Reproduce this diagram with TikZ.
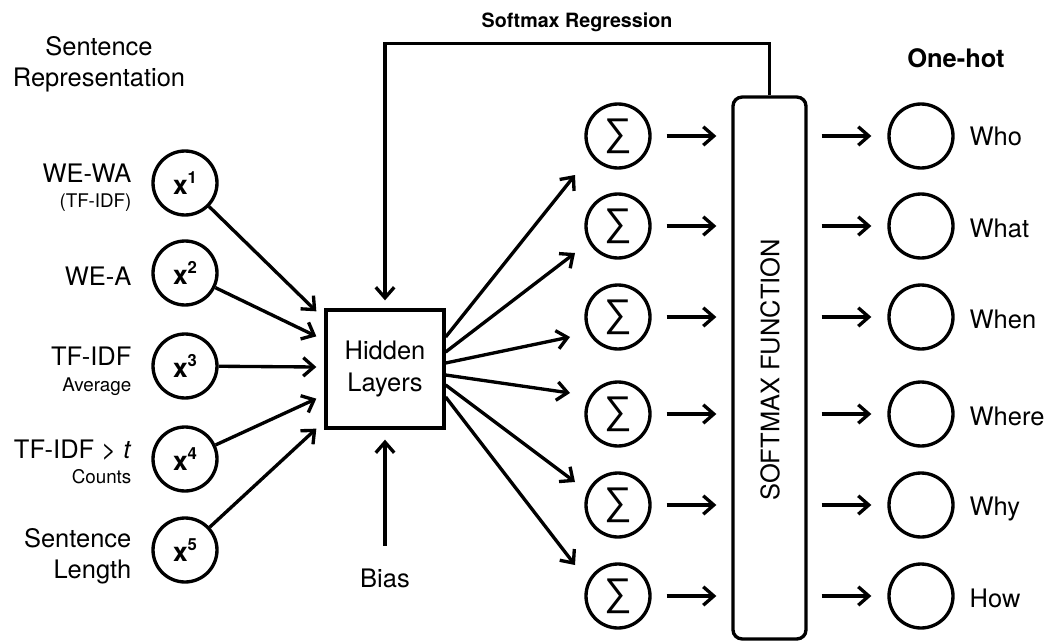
\documentclass[tikz,border=0pt]{standalone}
\usepackage{fontspec}
\setmainfont{TeX Gyre Heros}
\newfontfamily\sigfont{Liberation Sans}
\usetikzlibrary{arrows.meta,calc}
\newcommand\xsup[1]{x\raisebox{0.42em}{\fontsize{9.5}{10}\selectfont #1}}
\begin{document}
\begin{tikzpicture}[x=0.02cm,y=-0.02cm,
  line width=1.9pt,
  arr/.style={-{Straight Barb[length=6pt,width=10.5pt]}},
  big/.style={font=\fontsize{14.5}{18}\selectfont, inner sep=0pt},
  small/.style={font=\fontsize{10.7}{13}\selectfont, inner sep=0pt},
  inp/.style={circle, draw, minimum size=1.28cm, inner sep=0pt, font=\bfseries\fontsize{15}{17}\selectfont},
  sig/.style={inp, font=\sigfont\fontsize{22}{22}\selectfont},
  boldlab/.style={inner sep=0pt, anchor=base},
  outlab/.style={big, anchor=base west},
  inlab/.style={big, anchor=base east},
  inlabsmall/.style={small, anchor=base east}
]
\useasboundingbox (0,0) rectangle (1045,642);

% header labels
\node[big, anchor=base] (sr1) at (99,56) {Sentence};
\node[big, anchor=base] (sr2) at (99,87) {Representation};
\node[boldlab, font=\bfseries\fontsize{11.2}{13}\selectfont] (sreg) at (577,28) {Softmax Regression};
\node[boldlab, font=\bfseries\fontsize{14.5}{17}\selectfont] (oh) at (956,68) {One-hot};

% inputs
\node[inp] (x1) at (185,183) {\xsup{1}};
\node[inp] (x2) at (185,273) {\xsup{2}};
\node[inp] (x3) at (185,366) {\xsup{3}};
\node[inp] (x4) at (185,459) {\xsup{4}};
\node[inp] (x5) at (185,550) {\xsup{5}};

\node[inlab] (l1a) at (133,182) {WE-WA};
\node[inlabsmall] (l1b) at (133,207) {(TF-IDF)};
\node[inlab] (l2) at (133,285) {WE-A};
\node[inlab] (l3a) at (133,365) {TF-IDF};
\node[inlabsmall] (l3b) at (133,391) {Average};
\node[inlab] (l4a) at (133,458) {TF-IDF > \textit{t}};
\node[inlabsmall] (l4b) at (133,483) {Counts};
\node[inlab] (l5a) at (133,547) {Sentence};
\node[inlab] (l5b) at (133,578) {Length};

% hidden layers
\node[draw, minimum width=2.36cm, minimum height=2.36cm, align=center, big] (hid) at (385,369) {Hidden\\Layers};
\node[big, anchor=base] (bias) at (385,587) {Bias};

% sigma nodes
\node[sig] (s1) at (618,136) {∑};
\node[sig] (s2) at (618,226) {∑};
\node[sig] (s3) at (618,317) {∑};
\node[sig] (s4) at (618,414) {∑};
\node[sig] (s5) at (618,505) {∑};
\node[sig] (s6) at (618,596) {∑};

% softmax box
\node[draw, rounded corners=0.18cm, minimum width=1.46cm, minimum height=10.84cm] (sm) at (769.5,368) {};
\node[big, rotate=90] (smt) at (770,370) {SOFTMAX FUNCTION};

% outputs
\node[inp] (o1) at (921,136) {};
\node[inp] (o2) at (921,226) {};
\node[inp] (o3) at (921,317) {};
\node[inp] (o4) at (921,414) {};
\node[inp] (o5) at (921,505) {};
\node[inp] (o6) at (921,596) {};
\node[outlab] (ol1) at (968,146) {Who};
\node[outlab] (ol2) at (968,237) {What};
\node[outlab] (ol3) at (968,328) {When};
\node[outlab] (ol4) at (968,425) {Where};
\node[outlab] (ol5) at (968,515) {Why};
\node[outlab] (ol6) at (968,607) {How};

% inputs -> hidden
\draw[arr] (x1) -- ($(hid.north west)+(-8,3)$);
\draw[arr] (x2) -- ($(hid.north west)+(-8,28)$);
\draw[arr] (x3) -- ($(hid.west)+(-8,-2)$);
\draw[arr] (x4) -- ($(hid.south west)+(-8,-31)$);
\draw[arr] (x5) -- ($(hid.south west)+(-8,-1)$);

% bias
\draw[arr] ($(bias.north)+(0,-21)$) -- ($(hid.south)+(0,10)$);

% hidden -> sigma
\draw[arr] ($(hid.east)+(0,-32)$) -- ($(s1)+(-43,39)$);
\draw[arr] ($(hid.east)+(0,-17)$) -- ($(s2)+(-43,27)$);
\draw[arr] ($(hid.east)+(0,-6)$) -- ($(s3)+(-48,20)$);
\draw[arr] ($(hid.east)+(0,6)$) -- ($(s4)+(-48,-21)$);
\draw[arr] ($(hid.east)+(0,16)$) -- ($(s5)+(-43,-23)$);
\draw[arr] ($(hid.east)+(0,28)$) -- ($(s6)+(-43,-31)$);

% sigma -> softmax, softmax -> outputs
\foreach \i in {1,...,6}{
  \draw[arr] ($(s\i.east)+(15,0)$) -- ($(sm.west|-s\i)+(-15,0)$);
  \draw[arr] ($(sm.east|-o\i)+(14,0)$) -- ($(o\i.west)+(-16,0)$);
}

% feedback loop
\draw[arr] (sm.north) -- ++(0,-52) -| ($(hid.north)+(0,-8)$);
\end{tikzpicture}
\end{document}
